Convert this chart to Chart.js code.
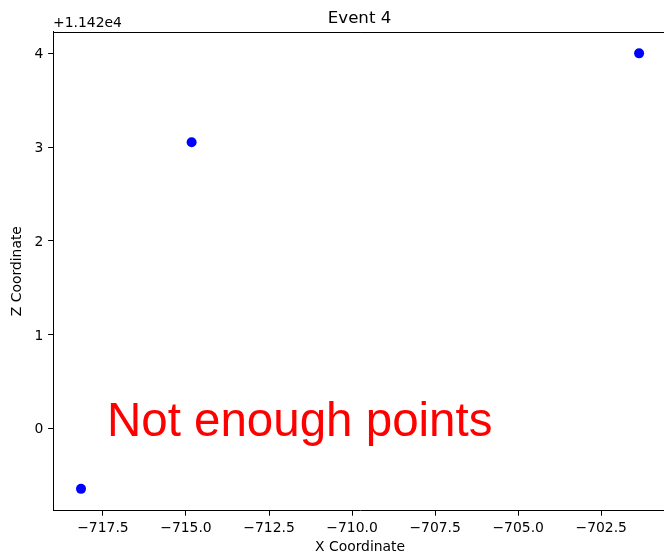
<!DOCTYPE html>
<html>
<head>
<meta charset="utf-8">
<script src="https://cdn.jsdelivr.net/npm/chart.js@4"></script>
<style>
  body { margin: 0; overflow: hidden; background: #fff; }
</style>
</head>
<body>
<canvas id="graficoEvento" width="667" height="557"></canvas>
<script>
// valores
const tituloEvento = 'Event 4'
const xValues = [-718.16, -714.83, -701.36]
const zValues = [11419.353, 11423.051, 11424.0]
const zOffset = 11420
const offsetLabel = '+1.142e4'
const xTicks = [-717.5, -715.0, -712.5, -710.0, -707.5, -705.0, -702.5]
const zTicks = [11420, 11421, 11422, 11423, 11424]
const xLimits = [-719.0, -700.52]
const zLimits = [11419.12, 11424.232]
const aviso = 'Not enough points'
const avisoPos = [-717.38, 11419.92]

const fonteEixo = { family: 'DejaVu Sans', size: 13.9 }
const menos = (s) => s.replace('-', '\u2212')

const textosExtras = {
  id: 'textosExtras',
  afterDraw (chart) {
    const { ctx, chartArea } = chart
    const sx = chart.scales.x
    const sy = chart.scales.y
    ctx.save()
    // borda de cima
    ctx.strokeStyle = '#000'
    ctx.lineWidth = 1
    ctx.beginPath()
    ctx.moveTo(chartArea.left, Math.round(chartArea.top) + 0.5)
    ctx.lineTo(chartArea.right, Math.round(chartArea.top) + 0.5)
    ctx.stroke()

    ctx.fillStyle = '#000'
    ctx.textBaseline = 'alphabetic'
    ctx.font = '16.67px "DejaVu Sans"'
    ctx.textAlign = 'center'
    ctx.fillText(tituloEvento, (chartArea.left + chartArea.right) / 2 - 0.5, chartArea.top - 8.5)

    ctx.font = '13.9px "DejaVu Sans"'
    ctx.textAlign = 'left'
    ctx.fillText(offsetLabel, chartArea.left, chartArea.top - 5)

    ctx.fillStyle = '#ff0000'
    ctx.font = '47.5px "Liberation Sans"'
    ctx.fillText(aviso, sx.getPixelForValue(avisoPos[0]), sy.getPixelForValue(avisoPos[1]))
    ctx.restore()
  }
}

const graficoEvento = new Chart(document.getElementById('graficoEvento'), {
  type: 'scatter',
  data: {
    datasets: [{
      label: tituloEvento,
      data: xValues.map((x, i) => ({ x: x, y: zValues[i] })),
      backgroundColor: '#0000ff',
      borderColor: '#0000ff',
      pointRadius: 5,
      pointHoverRadius: 5,
      borderWidth: 0
    }]
  },
  options: {
    responsive: false,
    animation: false,
    devicePixelRatio: 1,
    layout: { autoPadding: false, padding: { top: 31.6, left: 0, right: 0, bottom: 0 } },
    plugins: {
      legend: { display: false },
      tooltip: { enabled: false },
      title: { display: false }
    },
    scales: {
      x: {
        type: 'linear',
        position: 'bottom',
        min: xLimits[0],
        max: xLimits[1],
        afterBuildTicks: (axis) => { axis.ticks = xTicks.map(v => ({ value: v })) },
        afterFit: (axis) => { axis.height = 46.3 },
        ticks: {
          font: fonteEixo,
          color: '#000',
          padding: 4.7,
          maxRotation: 0,
          autoSkip: false,
          callback: (v) => menos(Number(v).toFixed(1))
        },
        grid: { drawOnChartArea: false, drawTicks: true, tickLength: 5, color: '#000', tickWidth: 1 },
        border: { display: true, color: '#000', width: 1 },
        title: { display: true, text: 'X Coordinate', font: fonteEixo, color: '#000', padding: { top: 0, bottom: 1.2 } }
      },
      y: {
        type: 'linear',
        position: 'left',
        min: zLimits[0],
        max: zLimits[1],
        afterBuildTicks: (axis) => { axis.ticks = zTicks.map(v => ({ value: v })) },
        afterFit: (axis) => { axis.width = 53.1 },
        ticks: {
          font: fonteEixo,
          color: '#000',
          padding: 4.7,
          labelOffset: 1.5,
          autoSkip: false,
          callback: (v) => menos(String(Math.round(v - zOffset)))
        },
        grid: { drawOnChartArea: false, drawTicks: true, tickLength: 5, color: '#000', tickWidth: 1 },
        border: { display: true, color: '#000', width: 1 },
        title: { display: true, text: 'Z Coordinate', font: fonteEixo, color: '#000', padding: { top: 9.4, bottom: 0 } }
      }
    }
  },
  plugins: [textosExtras]
})
</script>
</body>
</html>
